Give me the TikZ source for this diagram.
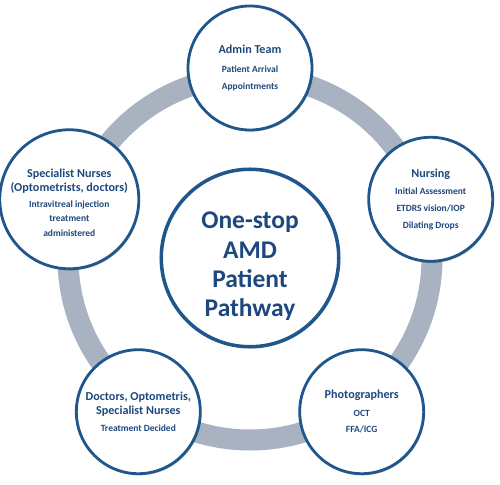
\documentclass[tikz,border=0pt]{standalone}
\usepackage{fontspec}
\setmainfont{Carlito}
\usepackage{tikz}
\usetikzlibrary{shadows}

\definecolor{ringgray}{RGB}{168,178,193}
\definecolor{stageblue}{RGB}{31,86,140}
\definecolor{textblue}{RGB}{30,72,125}

\newcommand{\stagehead}[1]{{\fontsize{6.9}{8.5}\selectfont #1}}

\begin{document}
\begin{tikzpicture}[
  stage/.style={circle, draw=stageblue, line width=1.6pt, fill=white, minimum size=2.48cm,
    align=center, text=textblue, inner sep=0pt,
    font=\bfseries\fontsize{5.4}{8}\selectfont,
    drop shadow={shadow xshift=0.6pt, shadow yshift=-0.9pt, opacity=0.25, fill=black}},
  hub/.style={stage, line width=2pt, minimum size=3.55cm, font=\bfseries\fontsize{14.5}{16.6}\selectfont},
  ring/.style={draw=ringgray, line width=0.42cm},
]
\useasboundingbox (-5,5.16) rectangle (5,-4.52);
% the loop behind the stages
\draw[ring] (0,0) circle (3.64cm);
\node[hub] (pathway) at (0,0) {\rule{0pt}{19pt}One-stop\\AMD\\Patient\\Pathway};
\node[stage] (admin) at (90:3.8) {\stagehead{Admin Team}\\[2.4pt]Patient Arrival\\[1.6pt]Appointments};
\node[stage] (nursing) at (18:3.8) {\stagehead{Nursing}\\[2pt]Initial Assessment\\[1.5pt]ETDRS vision/IOP\\[1.5pt]Dilating Drops};
\node[stage] (photo) at (-54:3.8) {\stagehead{Photographers}\\[2pt]OCT\\[1.5pt]FFA/ICG};
\node[stage] (decide) at (-126:3.8) {\stagehead{Doctors, Optometris,}\\\stagehead{Specialist Nurses}\\[1.5pt]Treatment Decided};
\node[stage] (inject) at (162:3.8) {\rule{0pt}{9pt}\stagehead{Specialist Nurses}\\\stagehead{(Optometrists, doctors)}\\[0.8pt]Intravitreal injection\\[0.4pt]treatment\\[0.4pt]administered};
\end{tikzpicture}
\end{document}
